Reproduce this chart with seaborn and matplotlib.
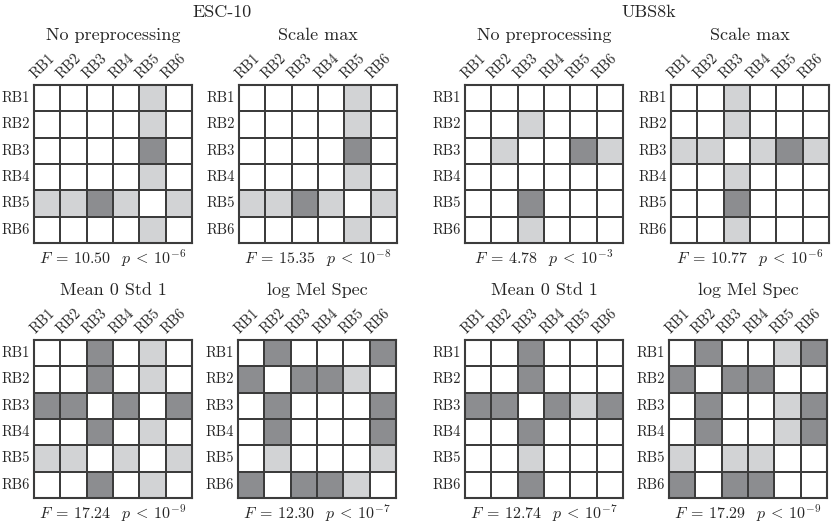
import numpy as np
import pandas as pd
import matplotlib
matplotlib.use("Agg")
import matplotlib.pyplot as plt
import matplotlib.transforms as mtrans
from matplotlib.colors import ListedColormap
import seaborn as sns

labels = ["RB1", "RB2", "RB3", "RB4", "RB5", "RB6"]

esc_noprep = [[0, 0, 0, 0, 1, 0],
              [0, 0, 0, 0, 1, 0],
              [0, 0, 0, 0, 2, 0],
              [0, 0, 0, 0, 1, 0],
              [1, 1, 2, 1, 0, 1],
              [0, 0, 0, 0, 1, 0]]
esc_scalemax = [[0, 0, 0, 0, 1, 0],
                [0, 0, 0, 0, 1, 0],
                [0, 0, 0, 0, 2, 0],
                [0, 0, 0, 0, 1, 0],
                [1, 1, 2, 1, 0, 1],
                [0, 0, 0, 0, 1, 0]]
ubs_noprep = [[0, 0, 0, 0, 0, 0],
              [0, 0, 1, 0, 0, 0],
              [0, 1, 0, 0, 2, 1],
              [0, 0, 0, 0, 0, 0],
              [0, 0, 2, 0, 0, 0],
              [0, 0, 1, 0, 0, 0]]
ubs_scalemax = [[0, 0, 1, 0, 0, 0],
                [0, 0, 1, 0, 0, 0],
                [1, 1, 0, 1, 2, 1],
                [0, 0, 1, 0, 0, 0],
                [0, 0, 2, 0, 0, 0],
                [0, 0, 1, 0, 0, 0]]
esc_meanstd = [[0, 0, 2, 0, 1, 0],
               [0, 0, 2, 0, 1, 0],
               [2, 2, 0, 2, 0, 2],
               [0, 0, 2, 0, 1, 0],
               [1, 1, 0, 1, 0, 1],
               [0, 0, 2, 0, 1, 0]]
esc_logmel = [[0, 2, 0, 0, 0, 2],
              [2, 0, 2, 2, 1, 0],
              [0, 2, 0, 0, 0, 2],
              [0, 2, 0, 0, 0, 2],
              [0, 1, 0, 0, 0, 1],
              [2, 0, 2, 2, 1, 0]]
ubs_meanstd = [[0, 0, 2, 0, 0, 0],
               [0, 0, 2, 0, 0, 0],
               [2, 2, 0, 2, 1, 2],
               [0, 0, 2, 0, 0, 0],
               [0, 0, 1, 0, 0, 0],
               [0, 0, 2, 0, 0, 0]]
ubs_logmel = [[0, 2, 0, 0, 1, 2],
              [2, 0, 2, 2, 0, 0],
              [0, 2, 0, 0, 1, 2],
              [0, 2, 0, 0, 1, 2],
              [1, 0, 1, 1, 0, 0],
              [2, 0, 2, 2, 0, 0]]

titles = ["No preprocessing", "Scale max", "No preprocessing", "Scale max",
          "Mean 0 Std 1", "log Mel Spec", "Mean 0 Std 1", "log Mel Spec"]
f_values = ["10.50", "15.35", "4.78", "10.77", "17.24", "12.30", "12.74", "17.29"]
p_exponents = ["-6", "-8", "-3", "-6", "-9", "-7", "-7", "-9"]
matrices = [esc_noprep, esc_scalemax, ubs_noprep, ubs_scalemax,
            esc_meanstd, esc_logmel, ubs_meanstd, ubs_logmel]
group_titles = ["ESC-10", "UBS8k"]

sns.set_theme(style="white")
plt.rcParams["font.family"] = ["cmr10", "DejaVu Serif"]
plt.rcParams["mathtext.fontset"] = "cm"
plt.rcParams["axes.unicode_minus"] = False

W, H = 831, 523
fig = plt.figure(figsize=(W / 100, H / 100), dpi=100)

lefts = [34, 239, 465, 671, 34, 238, 465, 669]
tops = [85, 85, 85, 85, 340, 340, 340, 340]
size = 158

cmap = ListedColormap(["#ffffff", "#d2d3d5", "#8c8d90"])
line_col = "#3c3c3c"

for i in range(8):
    l, t = lefts[i], tops[i]
    ax = fig.add_axes([l / W, (H - t - size) / H, size / W, size / H])
    df = pd.DataFrame(matrices[i], index=labels, columns=labels)
    sns.heatmap(df, ax=ax, cmap=cmap, vmin=-0.5, vmax=2.5, cbar=False,
                linewidths=1.3, linecolor=line_col, square=False)
    for sp in ax.spines.values():
        sp.set_visible(True)
        sp.set_color(line_col)
        sp.set_linewidth(1.5)
    ax.xaxis.tick_top()
    ax.tick_params(length=0, pad=3, labelsize=10.5)
    ax.set_xticklabels(labels, rotation=45, ha="left", va="bottom",
                       rotation_mode="anchor")
    ax.set_yticklabels(labels, rotation=0)
    ax.set_xlabel("")
    ax.set_ylabel("")
    offset = mtrans.ScaledTranslation(-10 / 100, 0, fig.dpi_scale_trans)
    for lab in ax.get_xticklabels():
        lab.set_transform(lab.get_transform() + offset)
    ax.text(0.5, 1.0 + 50 / size, titles[i], transform=ax.transAxes,
            ha="center", va="center", fontsize=13)
    ax.text(0.5, -15 / size,
            r"$F\:=\:%s\;\;\;p\:<\:10^{%s}$" % (f_values[i], p_exponents[i]),
            transform=ax.transAxes, ha="center", va="center", fontsize=11.5)

fig.text(222 / W, 1 - 12 / H, group_titles[0], ha="center", va="center", fontsize=13)
fig.text(649 / W, 1 - 12 / H, group_titles[1], ha="center", va="center", fontsize=13)

fig.savefig("out.png", dpi=100, facecolor="white")
